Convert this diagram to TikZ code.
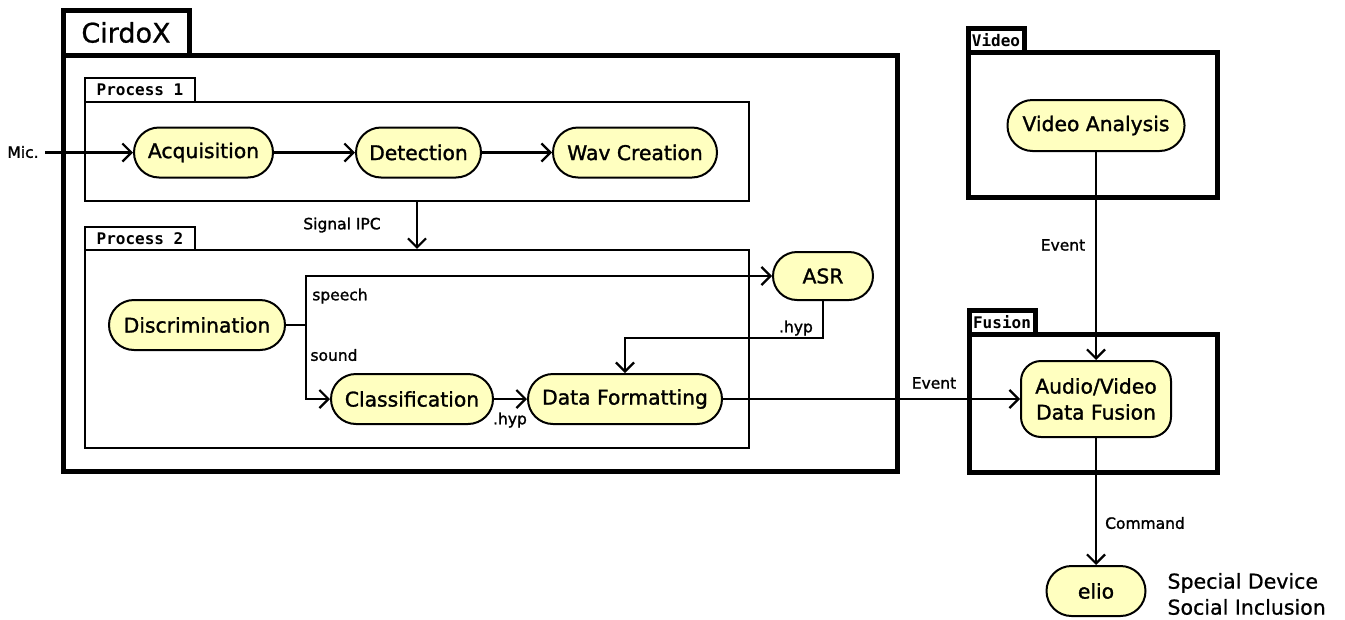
\documentclass[tikz,border=0pt]{standalone}
\usepackage{fontspec}
\setmainfont{DejaVu Sans}
\setmonofont{DejaVu Sans Mono}
\newfontface\heavy{DejaVu Sans}[FakeBold=1.4]
\newfontface\medium{DejaVu Sans}[FakeBold=0.8]
\usetikzlibrary{arrows.meta}
\definecolor{actfill}{HTML}{FFFFC0}
\begin{document}
\begin{tikzpicture}[x=1pt,y=-1pt,
  act/.style={draw, line width=2pt, fill=actfill, rounded corners=25pt, minimum height=50pt, inner sep=0pt, font=\fontsize{20.3}{24}\heavy},
  thinbox/.style={draw, line width=2.2pt, inner sep=0pt},
  tabtxt/.style={font=\fontsize{16}{18}\selectfont\ttfamily\bfseries},
  lbl/.style={font=\fontsize{15.5}{18}\heavy},
  arr/.style={line width=2.2pt, -{Straight Barb[length=9pt,width=18pt,line width=2.2pt]}},
  con/.style={line width=2.2pt}]
\useasboundingbox (0,0) rectangle (1345,619);

% CirdoX frame
\node[draw, line width=5pt, minimum width=834pt, minimum height=416pt, inner sep=0pt] (cirdox) at (480,263) {};
\node[draw, line width=5pt, minimum width=126pt, minimum height=45pt, inner sep=0pt, font=\fontsize{27}{30}\medium] (cirdoxtab) at (126,32.5) {CirdoX};

% Process 1
\node[thinbox, minimum width=664pt, minimum height=99pt] (p1) at (417,151.5) {};
\node[thinbox, minimum width=110pt, minimum height=24pt, tabtxt] (p1tab) at (140,90) {Process 1};
% Process 2
\node[thinbox, minimum width=664pt, minimum height=198pt] (p2) at (417,349) {};
\node[thinbox, minimum width=110pt, minimum height=23pt, tabtxt] (p2tab) at (140,238.5) {Process 2};

% Video frame
\node[draw, line width=5pt, minimum width=249pt, minimum height=145pt, inner sep=0pt] (vbox) at (1092.5,124.5) {};
\node[draw, line width=5pt, minimum width=56pt, minimum height=24pt, inner sep=0pt, tabtxt] (vtab) at (996,40) {Video};
% Fusion frame
\node[draw, line width=5pt, minimum width=248pt, minimum height=138pt, inner sep=0pt] (fbox) at (1093,403) {};
\node[draw, line width=5pt, minimum width=66pt, minimum height=24pt, inner sep=0pt, tabtxt] (ftab) at (1002,322) {Fusion};

% activities
\node[act, minimum width=139pt] (acq) at (203.5,152.5) {Acquisition};
\node[act, minimum width=125pt] (det) at (418.5,152.5) {Detection};
\node[act, minimum width=164pt] (wav) at (635,152.5) {Wav Creation};
\node[act, minimum width=176pt] (disc) at (197,325) {Discrimination};
\node[act, minimum width=100pt, minimum height=48pt, rounded corners=24pt] (asr) at (823,276) {ASR};
\node[act, minimum width=162pt] (cls) at (412,399) {Classification};
\node[act, minimum width=194pt] (df) at (625,399) {Data Formatting};
\node[act, minimum width=177pt, minimum height=51pt] (va) at (1096,125.5) {Video Analysis};
\node[act, minimum width=150pt, minimum height=76pt, rounded corners=20pt, align=center, font=\fontsize{20.3}{26}\heavy] (fus) at (1096,399) {Audio/Video\\Data Fusion};
\node[act, minimum width=99pt] (elio) at (1096,591) {elio};

% labels
\node[lbl] (mic) at (23,152) {Mic.};
\node[lbl] (sig) at (342,225) {Signal IPC};
\node[lbl] (speech) at (340,296) {speech};
\node[lbl] (sound) at (334,355) {sound};
\node[lbl] (hyp1) at (510,420) {.hyp};
\node[lbl] (hyp2) at (796,328) {.hyp};
\node[lbl] (ev1) at (934,383) {Event};
\node[lbl] (ev2) at (1063,245) {Event};
\node[lbl] (cmd) at (1145,523) {Command};
\node[anchor=west, align=left, font=\fontsize{20.5}{26}\medium] (sdev) at (1164,594) {Special Device\\Social Inclusion};

% connectors
\coordinate (micstart) at (45,152.5);
\draw[arr] (micstart) -- (acq.west);
\draw[arr] (acq.east) -- (det.west);
\draw[arr] (det.east) -- (wav.west);
\draw[arr] (p1.south) -- (p2.north);
\coordinate (br) at (306,325);
\draw[con] (disc.east) -- (br);
\draw[arr] (br) |- (asr.west);
\draw[arr] (br) |- (cls.west);
\draw[arr] (cls.east) -- (df.west);
\coordinate (hk) at (625,338);
\draw[arr] (asr.south) |- (hk) -- (df.north);
\draw[arr] (df.east) -- (fus.west);
\draw[arr] (va.south) -- (fus.north);
\draw[arr] (fus.south) -- (elio.north);
\end{tikzpicture}
\end{document}
